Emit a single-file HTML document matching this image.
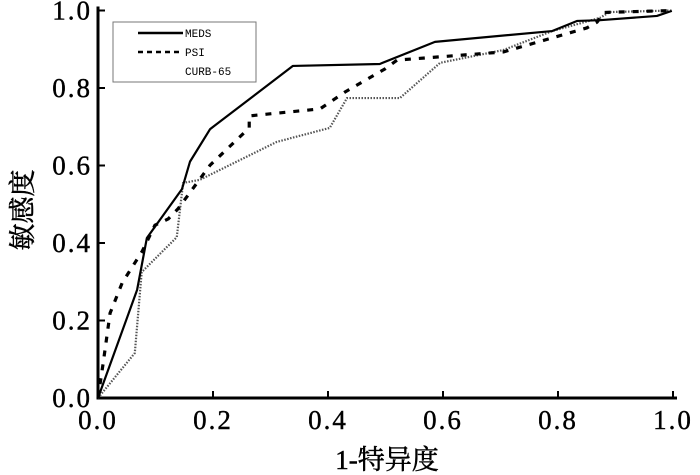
<!DOCTYPE html>
<html><head><meta charset="utf-8"><style>
body{margin:0;background:#fff;}
svg{display:block;font-family:"Liberation Serif","Noto Serif CJK SC",serif;}
</style></head><body>
<svg width="700" height="475">
<g id="axes"></g><g id="series"></g>
<g>
<rect x="113" y="22" width="143" height="60" fill="#fff" stroke="#777" stroke-width="1"/>
<line x1="138" y1="33" x2="183" y2="33" stroke="#000" stroke-width="2.5"/>
<text x="185" y="37" font-family="Liberation Mono,monospace" font-size="11">MEDS</text>
<line x1="138" y1="52" x2="183" y2="52" stroke="#000" stroke-width="2.5" stroke-dasharray="5 4"/>
<text x="185" y="56" font-family="Liberation Mono,monospace" font-size="11">PSI</text>
<text x="185" y="75" font-family="Liberation Mono,monospace" font-size="11">CURB-65</text>
</g>
<text x="387" y="469" font-size="27" text-anchor="middle" stroke="#000" stroke-width="0.5">1-特异度</text>
<text transform="translate(32,210) rotate(-90)" font-size="27" text-anchor="middle" stroke="#000" stroke-width="0.5">敏感度</text>
</svg>
<script>
const xTicks=[0,0.2,0.4,0.6,0.8,1.0];
const yTicks=[0,0.2,0.4,0.6,0.8,1.0];
const medsX=[0,0.068,0.085,0.146,0.16,0.195,0.339,0.49,0.586,0.79,0.833,0.873,0.972,0.998];
const medsY=[0,0.279,0.413,0.539,0.61,0.694,0.857,0.862,0.919,0.947,0.973,0.975,0.986,0.999];
const psiX=[0,0.009,0.021,0.042,0.077,0.099,0.122,0.139,0.195,0.263,0.263,0.386,0.43,0.5,0.52,0.705,0.85,0.868,0.88,1.0];
const psiY=[0,0.09,0.219,0.297,0.379,0.446,0.462,0.488,0.601,0.697,0.728,0.746,0.79,0.85,0.872,0.893,0.955,0.97,0.995,1.0];
const curbX=[0,0.064,0.076,0.137,0.148,0.177,0.311,0.403,0.433,0.525,0.595,0.705,0.79,0.873,0.89,1.0];
const curbY=[0,0.116,0.325,0.415,0.555,0.563,0.661,0.697,0.774,0.774,0.865,0.898,0.947,0.981,0.996,1.0];
const NS='http://www.w3.org/2000/svg';
const X0=98,X1=673,Y0=398,Y1=10.5;
const sx=v=>X0+v*(X1-X0), sy=v=>Y0-v*(Y0-Y1);
function mk(t,a,p){const e=document.createElementNS(NS,t);for(const k in a)e.setAttribute(k,a[k]);p.appendChild(e);return e;}
const ax=document.getElementById('axes');
const xl=mk('line',{x1:X0,y1:Y0,x2:X1+4,y2:Y0,stroke:'#000','stroke-width':3},ax);


const yl=mk('line',{x1:X0,y1:Y0+1.5,x2:X0,y2:Y1-4,stroke:'#000','stroke-width':3},ax);


xTicks.forEach(v=>{
 mk('line',{x1:sx(v),y1:Y0,x2:sx(v),y2:Y0-7,stroke:'#000','stroke-width':2},ax);
 const t=mk('text',{x:sx(v),y:Y0+31,'font-size':27,'text-anchor':'middle','letter-spacing':2,stroke:'#000','stroke-width':0.4},ax);
 t.textContent=v.toFixed(1);
 
 
});
yTicks.forEach(v=>{
 mk('line',{x1:X0,y1:sy(v),x2:X0+7,y2:sy(v),stroke:'#000','stroke-width':2},ax);
 const t=mk('text',{x:X0-6,y:sy(v)+9,'font-size':27,'text-anchor':'end','letter-spacing':2,stroke:'#000','stroke-width':0.4},ax);
 t.textContent=v.toFixed(1);
 
 
});
const sg=document.getElementById('series');
function line(xs,ys,attrs,name){
 const p=mk('polyline',Object.assign({points:xs.map((x,i)=>sx(x)+','+sy(ys[i])).join(' '),fill:'none','stroke-linejoin':'round'},attrs),sg);
 
 
}
line(curbX,curbY,{stroke:'#555','stroke-width':2.2,'stroke-dasharray':'1.5 1.5'},'curb65-line');
line(psiX,psiY,{stroke:'#000','stroke-width':3.2,'stroke-dasharray':'6 8'},'psi-line');
line(medsX,medsY,{stroke:'#000','stroke-width':2.2},'meds-line');
</script>
</body></html>
